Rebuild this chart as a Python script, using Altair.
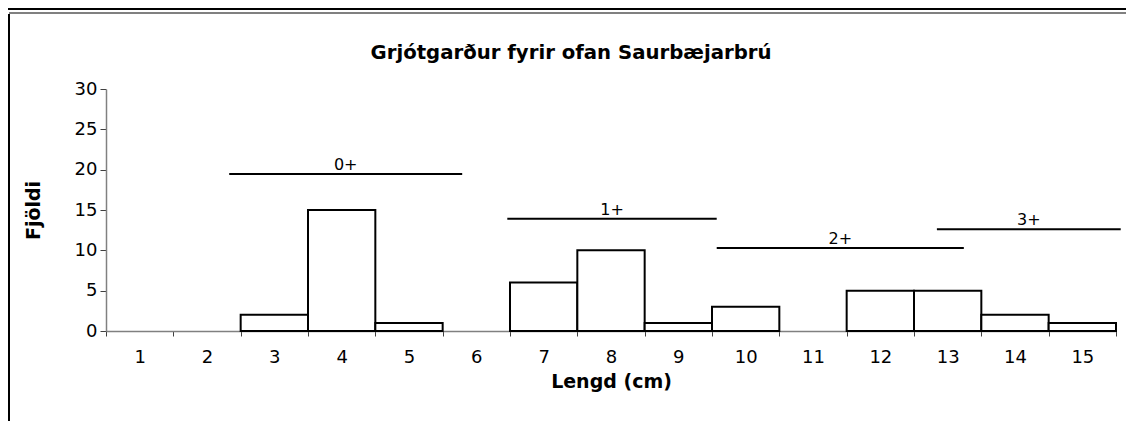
import altair as alt
import pandas as pd

# ---- data ----
lengths = list(range(1, 16))
counts = [0, 0, 2, 15, 1, 0, 6, 10, 1, 3, 0, 5, 5, 2, 1]

group_labels = ["0+", "1+", "2+", "3+"]
group_start = [1.83, 5.96, 9.07, 12.34]
group_end = [5.29, 9.07, 12.74, 15.07]
group_level = [19.45, 13.9, 10.3, 12.6]

y_ticks = [0, 5, 10, 15, 20, 25, 30]
x_ticks = list(range(0, 16))

title_text = "Grjótgarður fyrir ofan Saurbæjarbrú"
x_title = "Lengd (cm)"
y_title = "Fjöldi"

bars_df = pd.DataFrame({"len": lengths, "count": counts})
groups_df = pd.DataFrame({"label": group_labels, "start": group_start,
                          "end": group_end, "level": group_level})

FONT = "DejaVu Sans"
W, H = 1010, 242
BAND = W / 15

xscale = alt.Scale(domain=[0, 15], nice=False, zero=False)
yscale = alt.Scale(domain=[0, 30], nice=False)

bars = alt.Chart(bars_df).transform_filter("datum.count > 0").transform_calculate(
    lo="datum.len - 1", hi="datum.len"
).mark_rect(fill="white", stroke="black", strokeWidth=2).encode(
    x=alt.X("lo:Q", scale=xscale, title=x_title,
            axis=alt.Axis(values=x_ticks,
                          labelExpr="datum.value < 15 ? '' + (datum.value + 1) : ''",
                          labelOffset=BAND / 2, labelFlush=False, labelOverlap=False,
                          tickSize=5, labelPadding=12, titlePadding=6)),
    x2="hi:Q",
    y=alt.Y("count:Q", scale=yscale, title=y_title,
            axis=alt.Axis(values=y_ticks, tickSize=6, labelPadding=3,
                          titlePadding=31)),
    y2=alt.datum(0),
)

lines = alt.Chart(groups_df).mark_rule(color="black", strokeWidth=2).encode(
    x=alt.X("start:Q", scale=xscale, title=x_title),
    x2="end:Q",
    y=alt.Y("level:Q", scale=yscale, title=y_title),
)

labels = alt.Chart(groups_df).transform_calculate(
    mid="(datum.start + datum.end) / 2"
).mark_text(font=FONT, fontSize=16, baseline="alphabetic", dy=-4, color="black").encode(
    x=alt.X("mid:Q", scale=xscale, title=x_title),
    y=alt.Y("level:Q", scale=yscale, title=y_title),
    text="label:N",
)

one = alt.Data(values=[{"t": title_text}])
title_mark = alt.Chart(one).mark_text(
    font=FONT, fontSize=19.7, fontWeight="bold", color="black", baseline="middle"
).encode(x=alt.value(465), y=alt.value(-36), text="t:N")

frame_left = alt.Chart(one).mark_rule(color="black", strokeWidth=2).encode(
    x=alt.value(-97), y=alt.value(-75), y2=alt.value(345))
frame_top_gray = alt.Chart(one).mark_rule(color="#808080", strokeWidth=2).encode(
    x=alt.value(-97), x2=alt.value(1020), y=alt.value(-76))
frame_top_black = alt.Chart(one).mark_rule(color="black", strokeWidth=2).encode(
    x=alt.value(-98), x2=alt.value(1020), y=alt.value(-80))

chart = alt.layer(bars, lines, labels, title_mark, frame_left, frame_top_gray,
                  frame_top_black).properties(
    width=W, height=H,
    autosize=alt.AutoSizeParams(type="none"),
    padding={"left": 98, "top": 81, "right": 10, "bottom": 90},
).configure_view(stroke=None).configure_axis(
    grid=False,
    labelFont=FONT, labelFontSize=18, labelColor="black",
    titleFont=FONT, titleFontSize=19, titleFontWeight="bold", titleColor="black",
    domainColor="#808080", domainWidth=1.5, tickColor="#404040", tickWidth=1,
)

chart.save("out.html", embed_options={"renderer": "svg", "actions": False})
